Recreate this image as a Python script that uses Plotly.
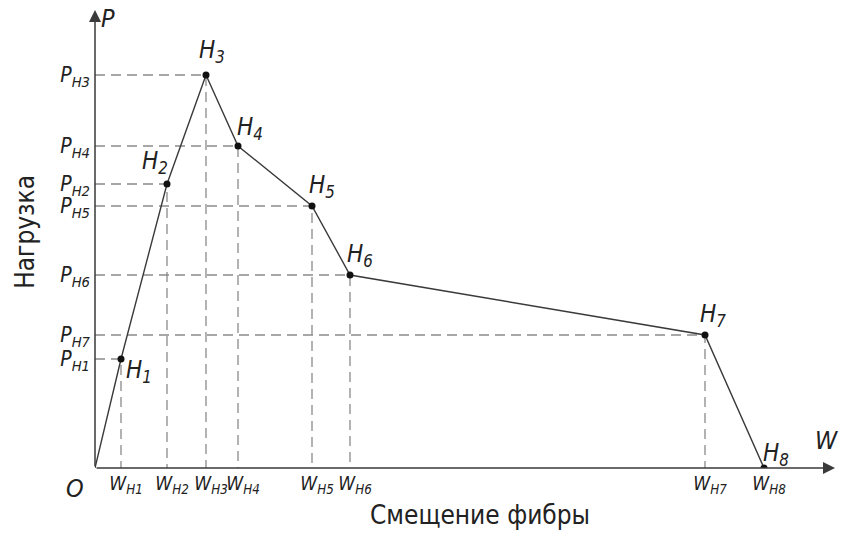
import plotly.graph_objects as go

# Characteristic points of the load–displacement diagram
point_names = ["H1", "H2", "H3", "H4", "H5", "H6", "H7", "H8"]
w_values = [26, 72, 111, 143, 217, 255, 610, 669]
p_values = [109, 284, 393, 322, 262, 193, 133, 0]

# Tick labels for the marked load and displacement levels
p_tick_labels = ["P<sub>H1</sub>", "P<sub>H2</sub>", "P<sub>H3</sub>", "P<sub>H4</sub>",
                 "P<sub>H5</sub>", "P<sub>H6</sub>", "P<sub>H7</sub>"]
w_tick_labels = ["W<sub>H1</sub>", "W<sub>H2</sub>", "W<sub>H3</sub>", "W<sub>H4</sub>",
                 "W<sub>H5</sub>", "W<sub>H6</sub>", "W<sub>H7</sub>", "W<sub>H8</sub>"]

x_title = "Смещение фибры"
y_title = "Нагрузка"

FONT = "DejaVu Sans Condensed, DejaVu Sans"
INK = "#222222"
LINE = "#3a3a3a"
DASH = "#8a8a8a"

# label offsets (pixels) for the point names
label_shift = [(18, -12), (-12, 22), (6, 24), (12, 18), (10, 20), (10, 20), (8, 20), (12, 14)]

fig = go.Figure()

# dashed projection lines to both axes
for w, p in zip(w_values[:-1], p_values[:-1]):
    fig.add_trace(go.Scatter(
        x=[0, w, w], y=[p, p, 0], mode="lines",
        line=dict(color=DASH, width=1.3, dash="10px,6px"),
        hoverinfo="skip", showlegend=False))

# the diagram itself, starting from the origin
fig.add_trace(go.Scatter(
    x=[0] + w_values, y=[0] + p_values, mode="lines",
    line=dict(color=LINE, width=1.4), showlegend=False))
fig.add_trace(go.Scatter(
    x=w_values, y=p_values, mode="markers",
    marker=dict(color="#111111", size=7), showlegend=False))

annotations = []
# axes with arrowheads
annotations.append(dict(x=0, y=458, ax=0, ay=0, xref="x", yref="y", axref="x", ayref="y",
                        text="", showarrow=True, arrowhead=2, arrowsize=1.6,
                        arrowwidth=1.5, arrowcolor=LINE))
annotations.append(dict(x=740, y=0, ax=0, ay=0, xref="x", yref="y", axref="x", ayref="y",
                        text="", showarrow=True, arrowhead=2, arrowsize=1.6,
                        arrowwidth=1.5, arrowcolor=LINE))

italic = dict(family=FONT, size=24, color=INK, style="italic")

# point names
for name, w, p, (dx, dy) in zip(point_names, w_values, p_values, label_shift):
    annotations.append(dict(x=w, y=p, xref="x", yref="y", text=f"{name[0]}<sub>{name[1:]}</sub>",
                            showarrow=False, xshift=dx, yshift=dy, font=italic))

# axis letters and origin
annotations.append(dict(x=0, y=458, xref="x", yref="y", text="P", showarrow=False,
                        xshift=13, yshift=-8, font=dict(italic, size=25)))
annotations.append(dict(x=740, y=0, xref="x", yref="y", text="W", showarrow=False,
                        xshift=-9, yshift=28, font=dict(italic, size=25)))
annotations.append(dict(x=0, y=0, xref="x", yref="y", text="O", showarrow=False,
                        xshift=-20, yshift=-20, font=dict(italic, size=25)))

# axis titles
annotations.append(dict(x=0.52, y=-0.103, xref="paper", yref="paper", text=x_title,
                        xanchor="center", yanchor="middle",
                        showarrow=False, font=dict(family=FONT, size=26, color=INK)))
annotations.append(dict(x=-0.095, y=0.515, xref="paper", yref="paper", text=y_title,
                        xanchor="center", yanchor="middle",
                        showarrow=False, textangle=-90, font=dict(family=FONT, size=26, color=INK)))

tickfont = dict(family=FONT, size=21, color=INK, style="italic")

fig.update_layout(
    width=848, height=539,
    margin=dict(l=95, r=13, t=10, b=71, pad=0),
    plot_bgcolor="white", paper_bgcolor="white",
    annotations=annotations,
    xaxis=dict(range=[0, 740], showgrid=False, zeroline=False, showline=False,
               tickmode="array", tickvals=w_values, ticktext=w_tick_labels, ticks="",
               tickangle=0, automargin=False, ticklabelstandoff=2, ticklabelshift=5,
               tickfont=dict(tickfont, size=19)),
    yaxis=dict(range=[0, 458], showgrid=False, zeroline=False, showline=False,
               tickmode="array", tickvals=p_values[:-1], ticktext=p_tick_labels, ticks="",
               automargin=False, ticklabelstandoff=4, tickfont=tickfont),
)

fig.write_html("out.html")
